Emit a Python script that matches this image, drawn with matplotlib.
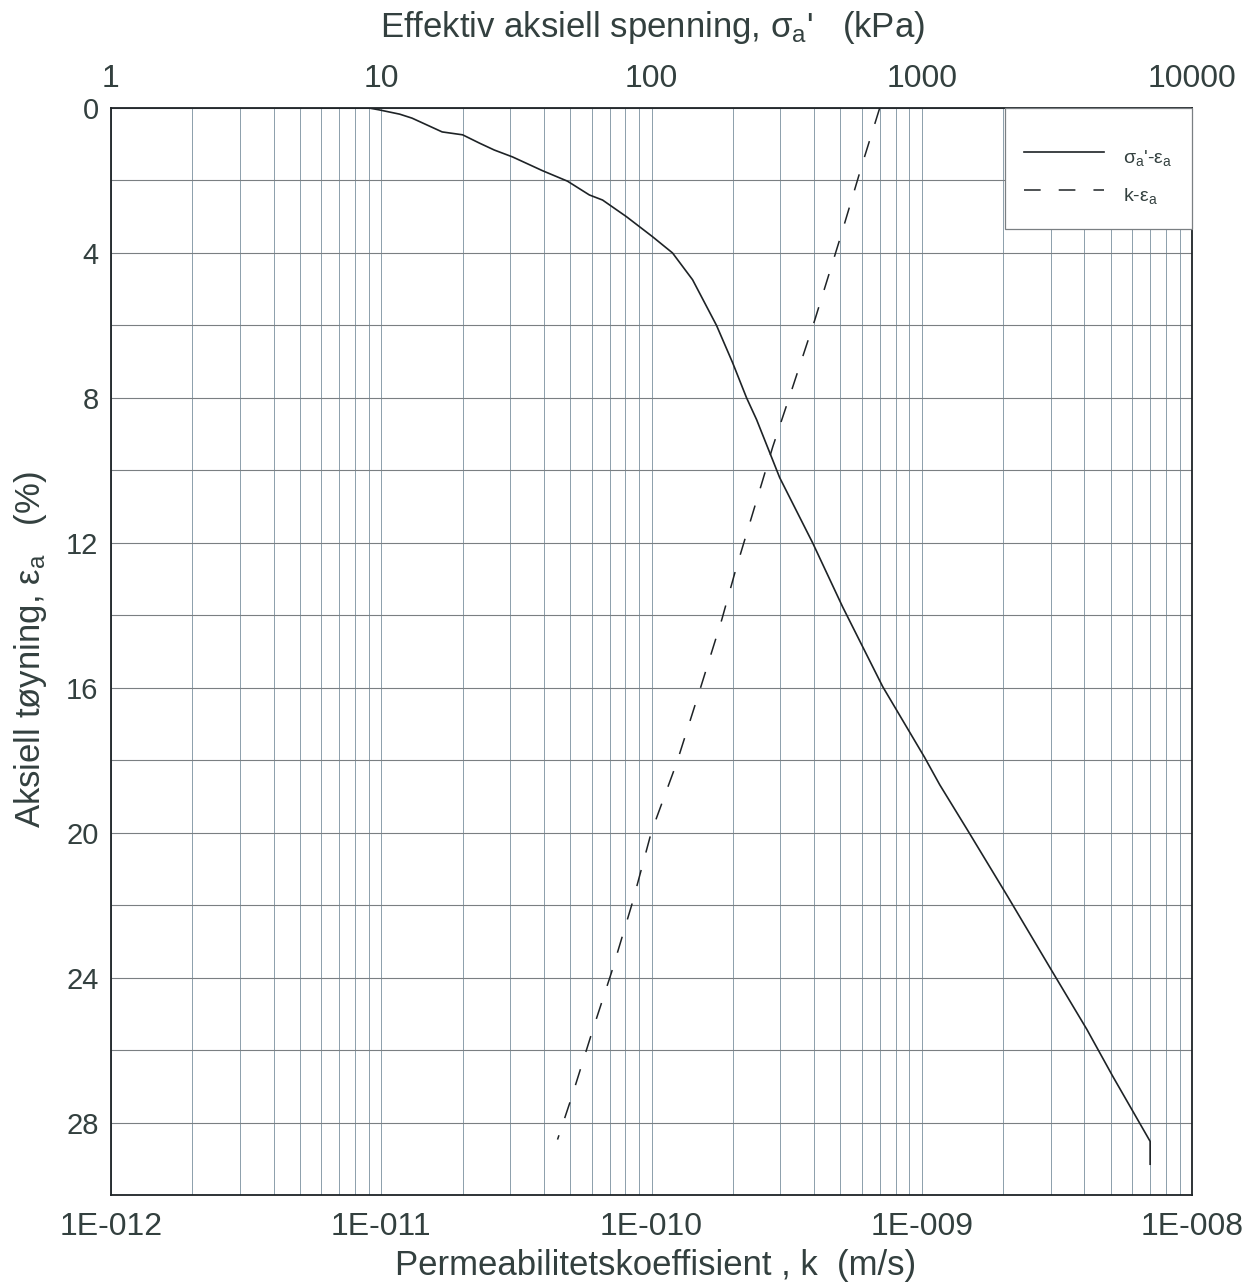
import matplotlib
matplotlib.use("Agg")
import matplotlib.pyplot as plt
from matplotlib.ticker import FixedLocator, NullFormatter

plt.rcParams['font.family'] = ['Liberation Sans', 'DejaVu Sans']
plt.rcParams['mathtext.fontset'] = 'custom'
plt.rcParams['mathtext.rm'] = 'Liberation Sans'
plt.rcParams['mathtext.it'] = 'Liberation Sans'
plt.rcParams['lines.scale_dashes'] = False

# Effective axial stress (kPa) vs axial strain (%)
sigma_kpa = [6, 9, 9.8, 11.7, 13.0, 16.8, 20.0, 23.1, 26.2, 30.6, 39.5, 48.9,
             58.9, 65.9, 80.8, 100.8, 119.6, 141.9, 174, 199.6, 224.8, 244.8,
             280.6, 298, 394.6, 509.7, 717, 1026, 1166, 1480, 2083, 3056,
             4083, 5096, 7000, 7000]
eps_sigma = [0, 0, 0.05, 0.17, 0.28, 0.66, 0.74, 0.97, 1.16, 1.35, 1.73, 2.02,
             2.40, 2.54, 3.0, 3.55, 4.0, 4.74, 6.0, 7.03, 8.0, 8.6,
             9.71, 10.2, 12.0, 13.77, 15.97, 17.93, 18.68, 19.94, 21.77, 23.86,
             25.43, 26.73, 28.52, 29.15]

# Permeability (m/s) vs axial strain (%)
k_ms = [6.99e-10, 6.04e-10, 5.01e-10, 4.02e-10, 3.24e-10, 2.81e-10, 2.05e-10,
        1.82e-10, 1.51e-10, 1.24e-10, 1.0e-10, 8.5e-11, 7.11e-11, 6.1e-11,
        5.06e-11, 4.49e-11]
eps_k = [0, 1.52, 3.55, 5.85, 7.97, 9.35, 12.74, 14.12, 16.06, 18.07, 19.97,
         21.93, 23.86, 25.38, 27.31, 28.47]

k_ticks = [1e-12, 1e-11, 1e-10, 1e-9, 1e-8]
k_labels = ["1E-012", "1E-011", "1E-010", "1E-009", "1E-008"]
sigma_ticks = [1, 10, 100, 1000, 10000]
sigma_labels = ["1", "10", "100", "1000", "10000"]
eps_ticks = [0, 4, 8, 12, 16, 20, 24, 28]
eps_minor = [2, 6, 10, 14, 18, 22, 26]

text_c = '#33403f'
line_c = '#1e2326'
grid_v = '#8c9eab'
grid_h = '#7a7f82'

fig = plt.figure(figsize=(12.55, 12.86), dpi=100)
ax = fig.add_axes([111 / 1255, 1 - 1195 / 1286, (1192 - 111) / 1255, (1195 - 108) / 1286])

ax.set_xscale('log')
ax.set_xlim(1e-12, 1e-8)
ax.set_ylim(30, 0)
ax.set_xticks(k_ticks, k_labels)
ax.xaxis.set_minor_locator(FixedLocator(
    [m * 10.0 ** e for e in range(-12, -8) for m in range(2, 10)]))
ax.xaxis.set_minor_formatter(NullFormatter())
ax.set_yticks(eps_ticks, [str(v) for v in eps_ticks])
ax.set_yticks(eps_minor, minor=True)
ax.tick_params(axis='both', which='both', length=0, colors=text_c)
ax.tick_params(axis='x', which='major', labelsize=23, pad=12)
ax.tick_params(axis='y', which='major', labelsize=21, pad=9)
ax.grid(axis='x', which='both', color=grid_v, linewidth=0.7)
ax.grid(axis='y', which='both', color=grid_h, linewidth=0.8)
ax.set_axisbelow(True)
for s in ax.spines.values():
    s.set_color(line_c)
    s.set_linewidth(1.3)

dash_line, = ax.plot(k_ms, eps_k, color=line_c, linewidth=1.1,
                     linestyle=(0, (12, 13)), label=r"k-$\mathregular{ε_a}$")

ax2 = ax.twiny()
ax2.set_xscale('log')
ax2.set_xlim(1, 1e4)
ax2.set_xticks(sigma_ticks, sigma_labels)
ax2.xaxis.set_minor_locator(FixedLocator([]))
ax2.tick_params(axis='x', which='both', length=0, colors=text_c,
                labelsize=23, pad=10)
for s in ax2.spines.values():
    s.set_visible(False)

solid_line, = ax2.plot(sigma_kpa, eps_sigma, color=line_c, linewidth=1.2,
                       label=r"$\mathregular{σ_a}$'-$\mathregular{ε_a}$")

leg = ax2.legend(handles=[solid_line, dash_line], loc='upper right',
                 bbox_to_anchor=(1.0, 1.0), borderaxespad=0.0,
                 fancybox=False, framealpha=1.0, edgecolor=grid_h,
                 fontsize=14, handlelength=4.1, handletextpad=1.0,
                 handleheight=2.05, borderpad=1.0, labelspacing=0.36,
                 title=" ", title_fontsize=6)
leg.get_frame().set_linewidth(0.9)
for t in leg.get_texts():
    t.set_color(text_c)

fig.text(652 / 1255, 1 - 28 / 1286,
         r"Effektiv aksiell spenning, $\mathregular{σ_a}$'   (kPa)",
         ha='center', va='center', fontsize=25, color=text_c)
fig.text(656 / 1255, 1 - 1265 / 1286,
         "Permeabilitetskoeffisient , k  (m/s)",
         ha='center', va='center', fontsize=25, color=text_c)
fig.text(31 / 1255, 1 - 650 / 1286,
         r"Aksiell tøyning, $\mathregular{ε_a}$   (%)",
         ha='center', va='center', rotation=90, fontsize=25, color=text_c)

fig.savefig("out.png", dpi=100, facecolor='white')
